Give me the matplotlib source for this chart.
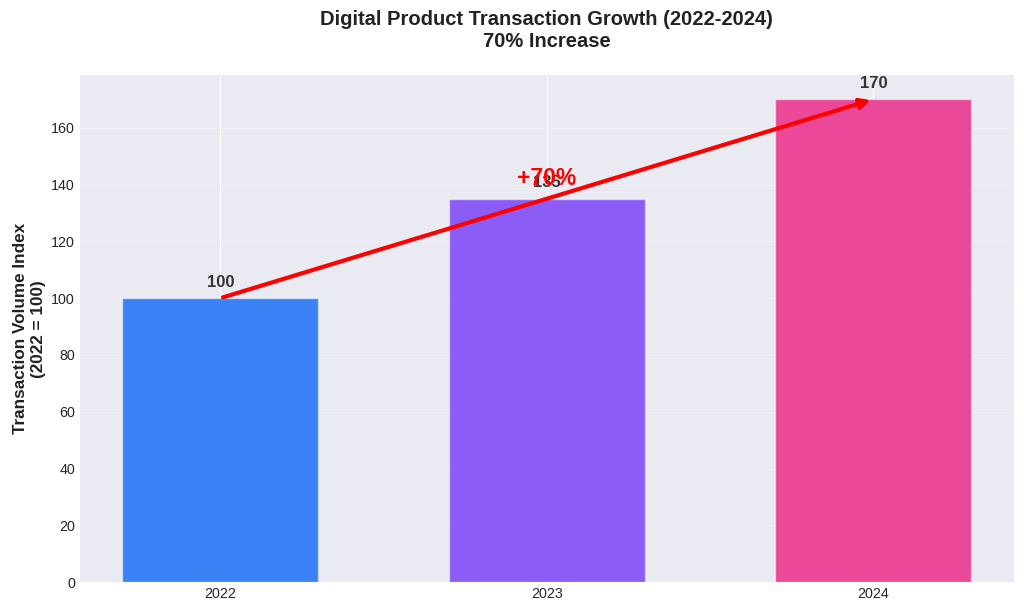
import matplotlib.pyplot as plt

plt.style.use('seaborn-v0_8-darkgrid')
plt.rcParams['font.family'] = ['Liberation Sans', 'DejaVu Sans']

years  = ['2022', '2023', '2024']
index  = [100, 135, 170]
colors = ['#3b82f6', '#8b5cf6', '#ec4899']

fig, ax = plt.subplots(figsize=(10.24, 6.11), dpi=100)
bars = ax.bar(years, index, color=colors, width=0.6, edgecolor='#ffffff80', linewidth=1)

for b, v in zip(bars, index):
    ax.text(b.get_x() + b.get_width() / 2, v + 3, str(v), ha='center', va='bottom',
            fontsize=12, fontweight='bold', color='#333333')

# growth arrow from first to last bar
ax.annotate('', xy=(2, index[2]), xytext=(0, index[0]),
            arrowprops=dict(arrowstyle='-|>', color='red', lw=3, mutation_scale=15))
growth = round((index[2] - index[0]) / index[0] * 100)
ax.text(1, 138, f'+{growth}%', ha='center', va='bottom', fontsize=16.5,
        fontweight='bold', color='red')

ax.set_title('Digital Product Transaction Growth (2022-2024)\n70% Increase',
             fontsize=14.5, fontweight='bold', pad=20, color='#222222')
ax.set_ylabel('Transaction Volume Index\n(2022 = 100)', fontsize=12.3, fontweight='bold', color='#222222')
ax.grid(axis='y', alpha=0.3)
ax.tick_params(labelsize=10.3)

plt.subplots_adjust(left=0.078, right=0.990, top=0.877, bottom=0.047)
plt.savefig('out.png', dpi=100)
